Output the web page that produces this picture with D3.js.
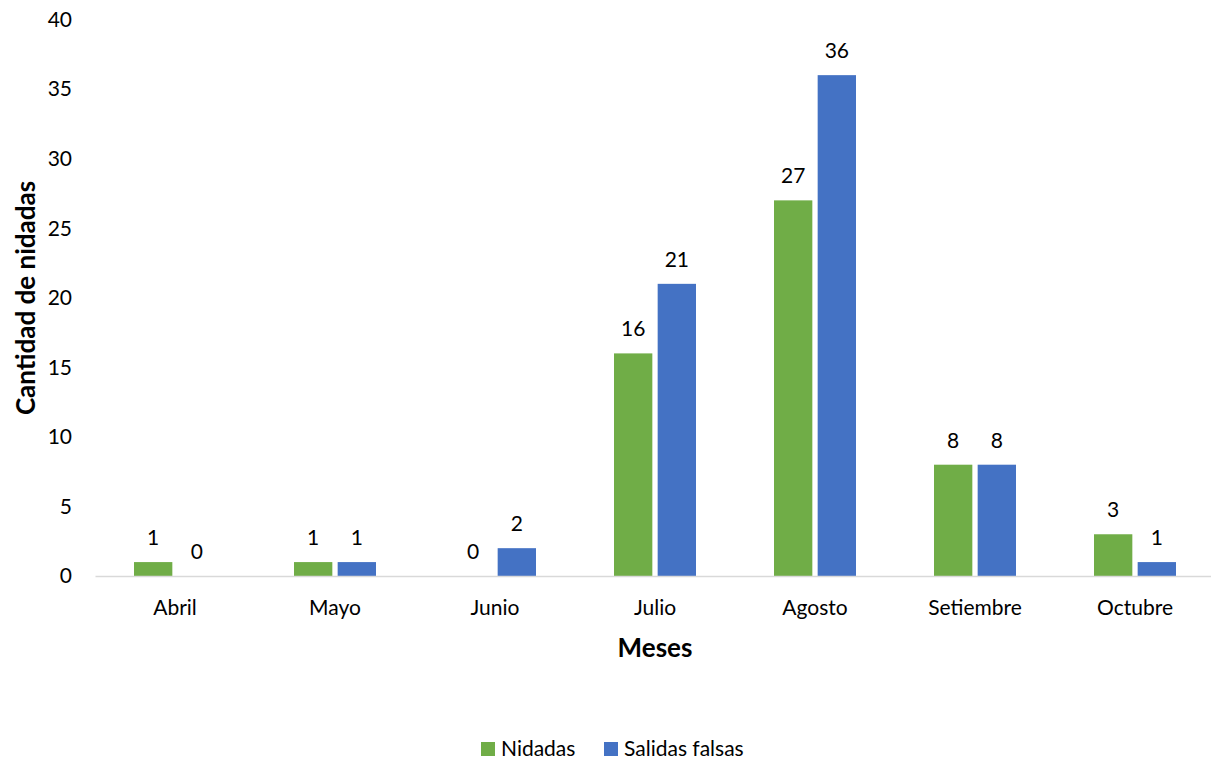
<!DOCTYPE html>
<html>
<head>
<meta charset="utf-8">
<script src="https://cdn.jsdelivr.net/npm/d3@7"></script>
<style>
  body { margin: 0; background: #fff; }
  text { font-family: Lato, "Open Sans", sans-serif; fill: #000; }
</style>
</head>
<body>
<script>
var months = ["Abril", "Mayo", "Junio", "Julio", "Agosto", "Setiembre", "Octubre"];
var nidadas = [1, 1, 0, 16, 27, 8, 3];
var salidas = [0, 1, 2, 21, 36, 8, 1];
var seriesNames = ["Nidadas", "Salidas falsas"];
var colors = ["#70AD47", "#4472C4"];
var yTicks = [0, 5, 10, 15, 20, 25, 30, 35, 40];

var width = 1211, height = 759;
var margin = {top: 19.5, right: 0, bottom: 183, left: 95};
var fs = "21px";

var svg = d3.select("body").append("svg")
    .attr("width", width)
    .attr("height", height);

var x = d3.scaleBand()
    .domain(months)
    .range([margin.left, margin.left + 160 * months.length]);

var y = d3.scaleLinear()
    .domain([0, 40])
    .range([height - margin.bottom, margin.top]);

var sub = d3.scaleBand()
    .domain([0, 1])
    .range([x.bandwidth() / 2 - 41, x.bandwidth() / 2 + 41])
    .paddingInner(10 / 82);

var rows = months.map(function(m, i) {
  return {month: m, values: [nidadas[i], salidas[i]]};
});

// y tick labels (no axis line, no gridlines)
svg.append("g")
  .selectAll("text")
  .data(yTicks)
  .enter().append("text")
    .attr("x", 72)
    .attr("y", function(d) { return y(d); })
    .attr("dy", "0.35em")
    .attr("text-anchor", "end")
    .style("font-size", fs)
    .text(function(d) { return d; });

// bars
var group = svg.selectAll(".grp")
    .data(rows)
  .enter().append("g")
    .attr("class", "grp")
    .attr("transform", function(d) { return "translate(" + x(d.month) + ",0)"; });

group.selectAll("rect")
    .data(function(d) { return d.values; })
  .enter().append("rect")
    .attr("x", function(d, i) { return sub(i); })
    .attr("width", sub.bandwidth())
    .attr("y", function(d) { return y(d); })
    .attr("height", function(d) { return y(0) - y(d); })
    .attr("fill", function(d, i) { return colors[i]; });

group.selectAll(".lbl")
    .data(function(d) { return d.values; })
  .enter().append("text")
    .attr("class", "lbl")
    .attr("x", function(d, i) { return sub(i) + sub.bandwidth() / 2; })
    .attr("y", function(d) { return y(d) - 17; })
    .attr("text-anchor", "middle")
    .style("font-size", fs)
    .text(function(d) { return d; });

// x axis
var xAxis = svg.append("g")
    .attr("transform", "translate(0," + y(0) + ")")
    .call(d3.axisBottom(x).tickSize(0).tickPadding(24));
xAxis.select(".domain").attr("stroke", "#D9D9D9").attr("stroke-width", 1.5);
xAxis.selectAll("text").style("font-size", fs).style("font-family", "Lato, sans-serif");

// axis titles
svg.append("text")
    .attr("x", x.range()[0] + (x.range()[1] - x.range()[0]) / 2)
    .attr("y", 657)
    .attr("text-anchor", "middle")
    .style("font-size", "26px")
    .style("font-weight", "bold")
    .text("Meses");

svg.append("text")
    .attr("transform", "translate(35," + 298 + ") rotate(-90)")
    .attr("text-anchor", "middle")
    .style("font-size", "26px")
    .style("font-weight", "bold")
    .text("Cantidad de nidadas");

// legend
var legendX = [481, 604];
var legend = svg.selectAll(".leg")
    .data(seriesNames)
  .enter().append("g")
    .attr("class", "leg")
    .attr("transform", function(d, i) { return "translate(" + legendX[i] + ",742)"; });

legend.append("rect")
    .attr("width", 14)
    .attr("height", 14)
    .attr("fill", function(d, i) { return colors[i]; });

legend.append("text")
    .attr("x", 20)
    .attr("y", 7)
    .attr("dy", "0.35em")
    .style("font-size", fs)
    .text(function(d) { return d; });
</script>
</body>
</html>
